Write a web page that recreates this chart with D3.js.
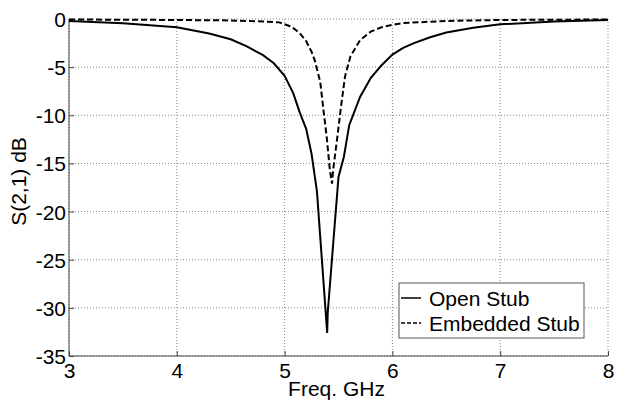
<!DOCTYPE html>
<html><head><meta charset="utf-8">
<script src="https://cdn.jsdelivr.net/npm/d3@7"></script>
<style>
html,body{margin:0;padding:0;background:#fff;}
text{font-family:"Liberation Sans",Arial,sans-serif;fill:#000;}
</style></head>
<body>
<svg id="chart" width="622" height="403"></svg>
<script>
const xTicks = [3, 4, 5, 6, 7, 8];
const yTicks = [0, -5, -10, -15, -20, -25, -30, -35];
const seriesNames = ["Open Stub", "Embedded Stub"];

const freqOpen = [3.0, 3.5, 4.0, 4.3, 4.5, 4.65, 4.8, 4.9, 5.0, 5.08, 5.14, 5.2, 5.25, 5.3, 5.395, 5.40, 5.50, 5.55, 5.6, 5.7, 5.8, 5.9, 6.0, 6.1, 6.2, 6.35, 6.5, 6.75, 7.0, 7.5, 8.0];
const dbOpen   = [-0.2, -0.45, -0.85, -1.5, -2.1, -2.85, -3.75, -4.6, -5.9, -7.7, -9.7, -11.4, -14.0, -17.9, -32.6, -30.5, -16.4, -14.3, -11.0, -8.1, -6.1, -4.8, -3.7, -3.0, -2.5, -1.9, -1.4, -0.9, -0.55, -0.25, -0.1];

const freqEmb = [3.0, 4.0, 4.5, 4.8, 4.95, 5.05, 5.1, 5.15, 5.2, 5.25, 5.28, 5.33, 5.36, 5.39, 5.42, 5.44, 5.45, 5.49, 5.52, 5.56, 5.61, 5.7, 5.8, 5.9, 6.0, 6.1, 6.5, 7.0, 8.0];
const dbEmb   = [-0.05, -0.1, -0.15, -0.25, -0.35, -0.75, -1.1, -1.6, -2.3, -3.4, -4.3, -6.5, -9.4, -12.2, -15.7, -17.1, -15.7, -12.2, -9.4, -6.0, -3.9, -2.2, -1.3, -0.85, -0.6, -0.42, -0.2, -0.1, -0.05];

const svg = d3.select("#chart");
const L = 69, R = 608, T = 19, B = 356;
const x = d3.scaleLinear().domain([3, 8]).range([L, R]);
const y = d3.scaleLinear().domain([-35, 0]).range([B, T]);

// grid
const g = svg.append("g");
g.selectAll(".vg").data(xTicks).join("line")
  .attr("x1", d => x(d)).attr("x2", d => x(d)).attr("y1", T).attr("y2", B)
  .attr("stroke", "#888").attr("stroke-width", 1).attr("stroke-dasharray", "1,2");
g.selectAll(".hg").data(yTicks).join("line")
  .attr("x1", L).attr("x2", R).attr("y1", d => y(d)).attr("y2", d => y(d))
  .attr("stroke", "#888").attr("stroke-width", 1).attr("stroke-dasharray", "1,2");

// axes lines
svg.append("line").attr("x1", L).attr("x2", L).attr("y1", T).attr("y2", B).attr("stroke", "#444").attr("stroke-width", 1);
svg.append("line").attr("x1", L).attr("x2", R).attr("y1", B).attr("y2", B).attr("stroke", "#444").attr("stroke-width", 1);

// axes with inside ticks
const fmt = d => String(d);
const xAxis = d3.axisBottom(x).tickValues(xTicks).tickSize(-5).tickPadding(7).tickFormat(fmt);
const yAxis = d3.axisLeft(y).tickValues(yTicks).tickSize(-5).tickPadding(3).tickFormat(fmt);
const gx = svg.append("g").attr("transform", `translate(0,${B})`).call(xAxis);
const gy = svg.append("g").attr("transform", `translate(${L},0)`).call(yAxis);
[gx, gy].forEach(a => {
  a.select(".domain").remove();
  a.selectAll(".tick line").attr("stroke", "#444");
  a.selectAll("text").style("font-size", "21px").attr("fill", "#000");
});
gx.selectAll("text").attr("dy", "0.71em");
gy.selectAll("text").attr("dy", "0.36em");

// curves
const line = d3.line().x(d => x(d[0])).y(d => y(d[1])).curve(d3.curveLinear);
const openData = freqOpen.map((f, i) => [f, dbOpen[i]]);
const embData = freqEmb.map((f, i) => [f, dbEmb[i]]);
svg.append("path").datum(embData).attr("d", line).attr("fill", "none")
  .attr("stroke", "#000").attr("stroke-width", 2).attr("stroke-dasharray", "6,3");
svg.append("path").datum(openData).attr("d", line).attr("fill", "none")
  .attr("stroke", "#000").attr("stroke-width", 2);

// axis labels
svg.append("text").attr("x", (L + R) / 2 - 2).attr("y", 396).attr("text-anchor", "middle")
  .style("font-size", "21px").text("Freq. GHz");
svg.append("text").attr("transform", `translate(26,${(T + B) / 2 - 6}) rotate(-90)`)
  .attr("text-anchor", "middle").style("font-size", "21px").text("S(2,1) dB");

// legend
const lg = svg.append("g");
lg.append("rect").attr("x", 399).attr("y", 283).attr("width", 185).attr("height", 55)
  .attr("fill", "#fff").attr("stroke", "#555").attr("stroke-width", 1);
const dashes = [null, "4,2"];
seriesNames.forEach((name, i) => {
  const yy = 298 + i * 25;
  lg.append("line").attr("x1", 401).attr("x2", 421).attr("y1", yy).attr("y2", yy)
    .attr("stroke", "#000").attr("stroke-width", 1.5).attr("stroke-dasharray", dashes[i]);
  lg.append("text").attr("x", 429).attr("y", yy + 8).style("font-size", "21px").text(name);
});
</script>
</body></html>
